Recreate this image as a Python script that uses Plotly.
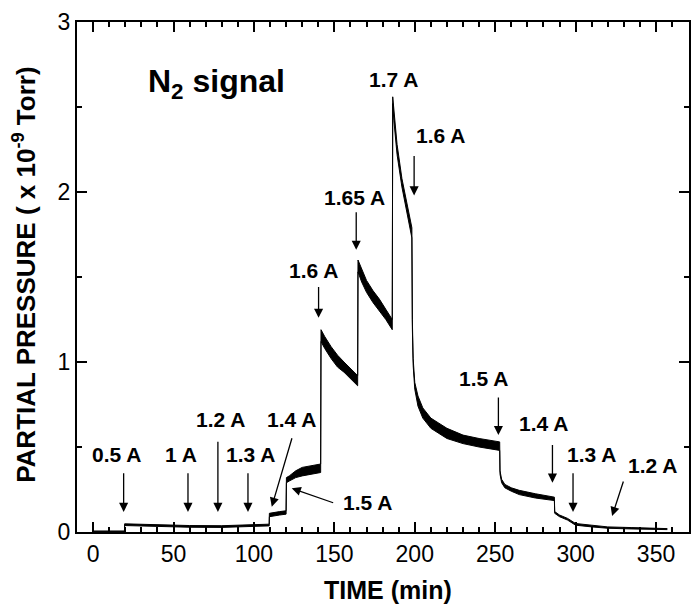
import plotly.graph_objects as go

# N2 partial pressure trace: time (min) with lower / upper edge of the noise band
time_min = [0.0, 19.5, 19.6, 30, 40, 60, 80, 95, 100, 109.5,
            109.6, 112, 116, 120,
            120.2, 122, 126, 130, 135, 141.5,
            141.7, 144, 148, 152, 156, 160, 164.5,
            164.7, 167, 170, 174, 178, 182, 186,
            186.3, 187, 189, 192, 195, 198.2,
            198.5, 199, 200, 202, 205, 210, 215, 220, 230, 240, 252.8,
            253, 254, 256, 260, 265, 275, 286.8,
            287, 290, 295, 300, 310, 320, 335, 350, 357]
p_low = [0.002, 0.002, 0.038, 0.035, 0.030, 0.028, 0.027, 0.030, 0.035, 0.036,
         0.09, 0.095, 0.100, 0.105,
         0.29, 0.30, 0.32, 0.33, 0.34, 0.35,
         1.12, 1.08, 1.02, 0.97, 0.94, 0.90, 0.86,
         1.53, 1.47, 1.41, 1.35, 1.30, 1.25, 1.19,
         2.52, 2.42, 2.22, 2.03, 1.88, 1.73,
         1.20, 0.98, 0.84, 0.74, 0.67, 0.61, 0.58, 0.55, 0.52, 0.50, 0.48,
         0.34, 0.29, 0.26, 0.24, 0.22, 0.20, 0.185,
         0.11, 0.09, 0.07, 0.04, 0.03, 0.022, 0.018, 0.015, 0.014]
p_high = [0.006, 0.006, 0.048, 0.045, 0.040, 0.038, 0.037, 0.040, 0.045, 0.046,
          0.11, 0.115, 0.12, 0.125,
          0.32, 0.33, 0.36, 0.38, 0.39, 0.40,
          1.19, 1.15, 1.09, 1.04, 1.00, 0.96, 0.92,
          1.60, 1.55, 1.48, 1.42, 1.37, 1.31, 1.25,
          2.56, 2.49, 2.28, 2.08, 1.93, 1.79,
          1.25, 1.02, 0.88, 0.80, 0.73, 0.67, 0.64, 0.61, 0.57, 0.55, 0.53,
          0.36, 0.31, 0.28, 0.26, 0.245, 0.225, 0.205,
          0.12, 0.10, 0.08, 0.05, 0.04, 0.03, 0.026, 0.022, 0.02]

# Filament current labels: text, label centre (t, p)
label_text = ["0.5 A", "1 A", "1.2 A", "1.3 A", "1.4 A", "1.5 A", "1.6 A",
              "1.65 A", "1.7 A", "1.6 A", "1.5 A", "1.4 A", "1.3 A", "1.2 A"]
label_t = [14.4, 54.6, 79.3, 98.1, 123.1, 170.8, 136.9,
           162.6, 186.5, 215.7, 242.8, 279.9, 309.7, 347.8]
label_p = [0.453, 0.453, 0.659, 0.453, 0.659, 0.176, 1.54,
           1.97, 2.66, 2.335, 0.904, 0.639, 0.453, 0.394]

# Arrows marking each current change: tip (t, p) and tail (t, p)
arrow_tip_t = [19, 59, 77.6, 96.3, 111.1, 123.5, 140.2, 163.6, 199.6, 252, 285.6, 298.4, 322.7]
arrow_tip_p = [0.118, 0.118, 0.118, 0.118, 0.149, 0.257, 1.26, 1.66, 1.98, 0.57, 0.29, 0.118, 0.094]
arrow_tail_t = [19, 59, 77.6, 96.3, 123.9, 150.2, 140.2, 163.6, 199.6, 252, 285.6, 298.4, 330]
arrow_tail_p = [0.355, 0.355, 0.54, 0.355, 0.56, 0.169, 1.45, 1.89, 2.22, 0.80, 0.52, 0.355, 0.306]

x_ticks = [0, 50, 100, 150, 200, 250, 300, 350]
y_ticks = [0, 1, 2, 3]

FONT = "Liberation Sans, Arial, sans-serif"

fig = go.Figure()
fig.add_trace(go.Scatter(x=time_min, y=p_low, mode="lines",
                         line=dict(color="black", width=1), hoverinfo="skip"))
fig.add_trace(go.Scatter(x=time_min, y=p_high, mode="lines",
                         line=dict(color="black", width=1), fill="tonexty",
                         fillcolor="black", hoverinfo="skip"))

annotations = []
for txt, t, p in zip(label_text, label_t, label_p):
    annotations.append(dict(x=t, y=p, xref="x", yref="y", text=f"<b>{txt}</b>",
                            showarrow=False, font=dict(family=FONT, size=21, color="black"),
                            xanchor="center", yanchor="middle"))
for tt, tp, at, ap in zip(arrow_tip_t, arrow_tip_p, arrow_tail_t, arrow_tail_p):
    annotations.append(dict(x=tt, y=tp, xref="x", yref="y", ax=at, ay=ap,
                            axref="x", ayref="y", text="", showarrow=True,
                            arrowhead=2, arrowsize=1.4, arrowwidth=1.3,
                            arrowcolor="black", standoff=0, startstandoff=0))
annotations.append(dict(x=76.5, y=2.64, xref="x", yref="y",
                        text="<b>N<sub>2</sub> signal</b>", showarrow=False,
                        font=dict(family=FONT, size=32, color="black"),
                        xanchor="center", yanchor="middle"))
annotations.append(dict(x=-0.086, y=0.505, xref="paper", yref="paper",
                        text="<b>PARTIAL PRESSURE ( x 10<sup>-9</sup> Torr)</b>",
                        textangle=-90, showarrow=False,
                        font=dict(family=FONT, size=26, color="black"),
                        xanchor="center", yanchor="middle"))
annotations.append(dict(x=0.508, y=-0.114, xref="paper", yref="paper",
                        text="<b>TIME (min)</b>", showarrow=False,
                        font=dict(family=FONT, size=25, color="black"),
                        xanchor="center", yanchor="middle"))

fig.update_layout(
    width=691, height=606,
    margin=dict(l=77, r=0, t=22, b=74),
    paper_bgcolor="white", plot_bgcolor="white",
    showlegend=False,
    annotations=annotations,
    font=dict(family=FONT, size=23, color="black"),
)
fig.update_xaxes(range=[-10, 370.5], tickvals=x_ticks, ticks="inside", ticklen=10,
                 tickwidth=1.5, tickcolor="black", showline=True, linewidth=2,
                 linecolor="black", mirror="ticks", showgrid=False, zeroline=False,
                 minor=dict(dtick=10, ticks="inside", ticklen=5, tickwidth=1.5,
                            tickcolor="black", showgrid=False),
                 tickfont=dict(family=FONT, size=23, color="black"))
fig.update_yaxes(range=[0, 3], tickvals=y_ticks, ticks="inside", ticklen=10,
                 tickwidth=1.5, tickcolor="black", showline=True, linewidth=2,
                 linecolor="black", mirror="ticks", showgrid=False, zeroline=False,
                 minor=dict(dtick=0.5, ticks="inside", ticklen=5, tickwidth=1.5,
                            tickcolor="black", showgrid=False),
                 tickfont=dict(family=FONT, size=23, color="black"))

fig.write_html("out.html")
